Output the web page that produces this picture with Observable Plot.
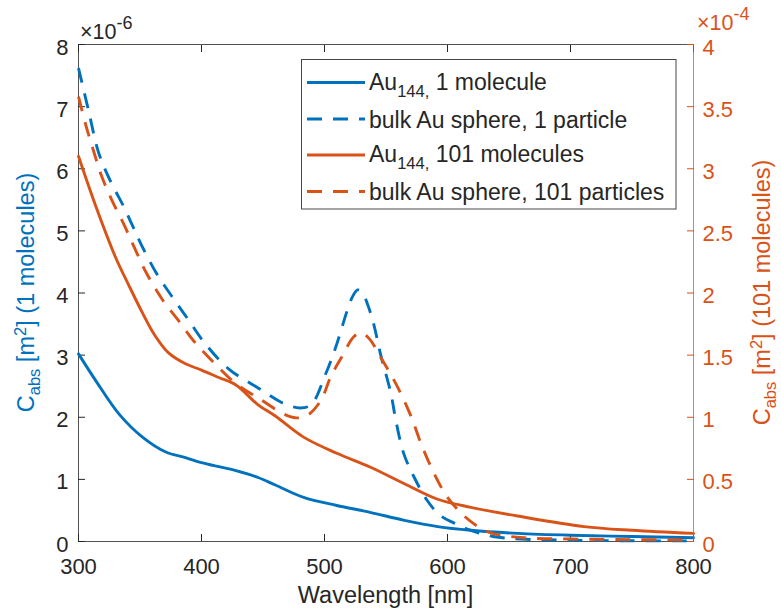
<!DOCTYPE html>
<html><head><meta charset="utf-8">
<script src="https://cdn.jsdelivr.net/npm/d3@7"></script>
<script src="https://cdn.jsdelivr.net/npm/@observablehq/plot@0.6"></script>
<style>
body{margin:0;background:#fff;}
#wrap{position:relative;width:781px;height:610px;font-family:"Liberation Sans",Arial,sans-serif;}
#wrap svg{position:absolute;left:0;top:0;}
</style></head><body><div id="wrap"></div>
<script>
// ---- data ----
// Au144, 1 molecule (left axis, x1e-6 m^2)
const wlAu1 = [300,314,333,352,371,387,400,415,428,446,460,483,510,537,565,592,619,657,700,750,800];
const cAu1  = [3.02,2.59,2.05,1.68,1.44,1.35,1.27,1.20,1.14,1.03,0.91,0.71,0.58,0.47,0.34,0.24,0.18,0.13,0.10,0.08,0.06];
// bulk Au sphere, 1 particle (left axis, x1e-6 m^2)
const wlBulk1 = [300,308,316.5,326,337,344,351,363,377.5,390,402,422,447,467,480,489,501,510,518.5,523,527,531,535,540,545.5,554,558,564.5,573,583.5,594,605,619,637,660,700,750,800];
const cBulk1  = [7.62,6.95,6.25,5.8,5.38,5.08,4.78,4.33,3.9,3.55,3.21,2.78,2.46,2.22,2.15,2.2,2.7,3.18,3.72,3.95,4.05,4.0,3.82,3.5,3.02,2.38,1.95,1.41,1.03,0.66,0.42,0.3,0.18,0.08,0.04,0.02,0.012,0.01];
// Au144, 101 molecules (right axis, x1e-4 m^2)
const wlAu101 = [300,314,330,341,352,362,373,387,400,414,428,446,460,483,510,537,565,592,619,657,711,750,800];
const cAu101  = [3.10,2.70,2.29,2.06,1.84,1.66,1.52,1.43,1.38,1.32,1.26,1.10,1.01,0.84,0.71,0.60,0.465,0.34,0.275,0.205,0.12,0.09,0.065];
// bulk Au sphere, 101 particles (right axis, x1e-4 m^2)
const wlBulk101 = [300,306,312.5,319,327,337,345,355,368,381.5,394,411,428,447,467,477,486,497,505,514,524,530,537,545.5,558,570,579,589,600,613,624,635,662,700,750,800];
const cBulk101  = [3.58,3.35,3.135,2.935,2.75,2.55,2.375,2.165,1.95,1.775,1.61,1.43,1.27,1.15,1.025,0.995,1.015,1.135,1.325,1.485,1.65,1.68,1.625,1.485,1.27,1.015,0.775,0.55,0.355,0.21,0.125,0.07,0.03,0.02,0.015,0.012];

const xTicks = [300,400,500,600,700,800];
const yLeftTicks = [0,1,2,3,4,5,6,7,8];
const yRightTicks = [0,0.5,1,1.5,2,2.5,3,3.5,4];
const legendLabels = [
  [["Au",0],["144,",1],[" 1 molecule",0]],
  [["bulk Au sphere, 1 particle",0]],
  [["Au",0],["144,",1],[" 101 molecules",0]],
  [["bulk Au sphere, 101 particles",0]]
];

// ---- build ----
const blue = "#0072BD", orange = "#D95319", ink = "#262626";
const font = '"Liberation Sans", Arial, Helvetica, sans-serif';
const toRows = (w, c) => w.map((d, i) => ({wl: d, c: c[i]}));
const au1 = toRows(wlAu1, cAu1), bulk1 = toRows(wlBulk1, cBulk1);
const au101 = toRows(wlAu101, cAu101), bulk101 = toRows(wlBulk101, cBulk101);

const common = {
  width: 781, height: 610,
  marginTop: 44, marginRight: 88, marginBottom: 69, marginLeft: 78,
  style: {background: "transparent", fontFamily: font, overflow: "visible"}
};
const dash = "15,11";
const lw = 2.9;

const p1 = Plot.plot({
  ...common,
  x: {domain: [300, 800], label: null},
  y: {domain: [0, 8], label: null},
  marks: [
    Plot.ruleY([0], {stroke: ink, strokeOpacity: 0.8}),
    Plot.ruleY([8], {stroke: ink, strokeOpacity: 0.8}),
    Plot.ruleX([300], {stroke: ink, strokeOpacity: 0.8}),
    Plot.axisX({ticks: xTicks, tickSize: 0, tickPadding: 17, fontSize: 22, fill: ink, tickFormat: d => String(d), label: null}),
    Plot.axisX({ticks: xTicks, tickSize: -7, tickFormat: () => "", stroke: ink, label: null}),
    Plot.axisX({anchor: "top", ticks: xTicks, tickSize: -7, tickFormat: () => "", stroke: ink, label: null}),
    Plot.axisY({ticks: yLeftTicks, tickSize: 0, tickPadding: 10, fontSize: 22, fill: ink, dy: 3, tickFormat: d => String(d), label: null}),
    Plot.axisY({ticks: yLeftTicks, tickSize: -7, tickFormat: () => "", stroke: ink, label: null}),
    Plot.line(au1, {x: "wl", y: "c", stroke: blue, strokeWidth: lw, curve: "catmull-rom"}),
    Plot.line(bulk1, {x: "wl", y: "c", stroke: blue, strokeWidth: lw, curve: "catmull-rom", strokeDasharray: dash, strokeLinecap: "butt"})
  ]
});

const p2 = Plot.plot({
  ...common,
  x: {domain: [300, 800], axis: null},
  y: {domain: [0, 4], label: null},
  marks: [
    Plot.ruleX([800], {stroke: orange, strokeOpacity: 0.75}),
    Plot.axisY({anchor: "right", ticks: yRightTicks, tickSize: 0, tickPadding: 9, fontSize: 22, fill: orange, dy: 3, tickFormat: d => String(d), label: null}),
    Plot.axisY({anchor: "right", ticks: yRightTicks, tickSize: -7, tickFormat: () => "", stroke: orange, label: null}),
    Plot.line(au101, {x: "wl", y: "c", stroke: orange, strokeWidth: lw, curve: "catmull-rom"}),
    Plot.line(bulk101, {x: "wl", y: "c", stroke: orange, strokeWidth: lw, curve: "catmull-rom", strokeDasharray: dash, strokeLinecap: "butt"})
  ]
});

const wrap = document.getElementById("wrap");
wrap.appendChild(p1);
wrap.appendChild(p2);

// ---- labels, exponents, legend ----
const svg = d3.select(p2);
function richText(g, parts, size, subSize, shift, supShift) {
  const t = g.append("text");
  let cur = 0;
  parts.forEach(([s, k]) => {
    const target = k === 1 ? shift : k === -1 ? -(supShift ?? shift * 1.3) : 0;
    t.append("tspan").attr("dy", target - cur).attr("font-size", k ? subSize : size).text(s);
    cur = target;
  });
  return t;
}
// x label
svg.append("text").attr("x", 385.5).attr("y", 603).attr("text-anchor", "middle")
  .attr("font-size", 23.5).attr("fill", ink).text("Wavelength [nm]");
// y labels
const yl = svg.append("g").attr("transform", "translate(34,292.5) rotate(-90)");
richText(yl, [["C",0],["abs",1],[" [m",0],["2",-1],["] (1 molecules)",0]], 23.5, 16.5, 6)
  .attr("text-anchor", "middle").attr("fill", blue);
const yr = svg.append("g").attr("transform", "translate(770,292.5) rotate(-90)");
richText(yr, [["C",0],["abs",1],[" [m",0],["2",-1],["] (101 molecules)",0]], 23.5, 16.5, 6)
  .attr("text-anchor", "middle").attr("fill", orange);
// exponent labels
const e1 = svg.append("g").attr("transform", "translate(80,39)");
richText(e1, [["×10",0],["-6",-1]], 21.5, 18, 7, 10).attr("fill", ink).attr("text-anchor", "start");
const e2 = svg.append("g").attr("transform", "translate(697,30)");
richText(e2, [["×10",0],["-4",-1]], 21.5, 18, 7, 10).attr("fill", orange).attr("text-anchor", "start");
// legend
const lg = svg.append("g");
lg.append("rect").attr("x", 301.5).attr("y", 59.5).attr("width", 374.5).attr("height", 149.5)
  .attr("fill", "white").attr("stroke", ink).attr("stroke-opacity", 0.85);
const legY = [82.5, 119, 155, 191.5];
const legStyle = [[blue, null], [blue, dash], [orange, null], [orange, dash]];
legendLabels.forEach((parts, i) => {
  const [col, da] = legStyle[i];
  const ln = lg.append("line").attr("x1", 307).attr("x2", 365).attr("y1", legY[i]).attr("y2", legY[i])
    .attr("stroke", col).attr("stroke-width", lw);
  if (da) ln.attr("stroke-dasharray", da);
  const g = lg.append("g").attr("transform", `translate(369,${legY[i] + (parts.length > 1 ? 7 : 8.5)})`);
  richText(g, parts, 23, 16.5, 7).attr("fill", ink).attr("text-anchor", "start");
});
</script></body></html>
